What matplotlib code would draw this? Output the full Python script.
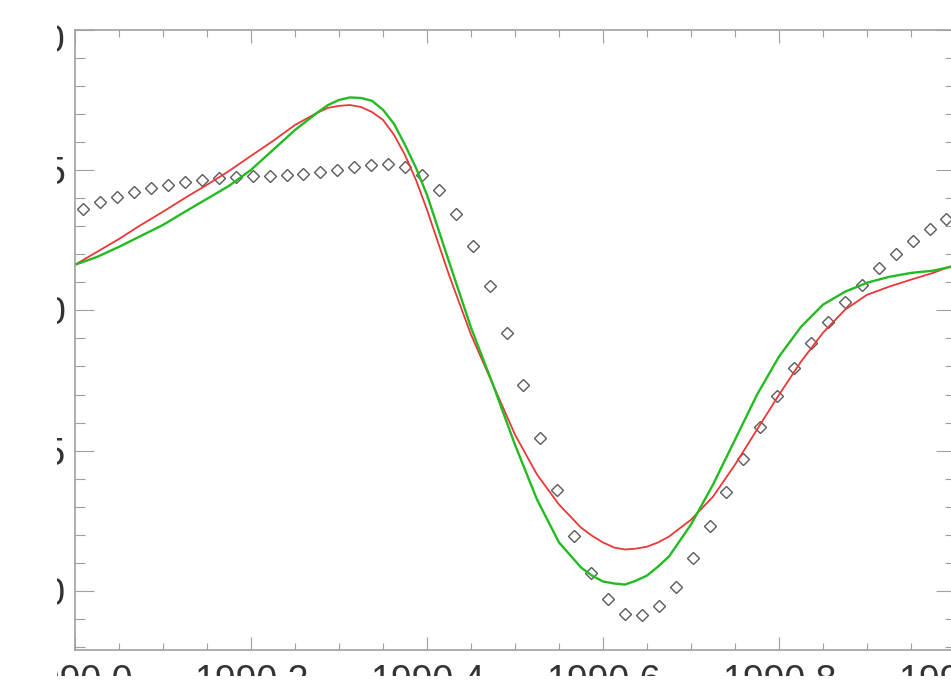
import matplotlib
matplotlib.use("Agg")
import matplotlib.pyplot as plt
from matplotlib.patches import Rectangle
from matplotlib.ticker import MultipleLocator
from matplotlib.transforms import ScaledTranslation

plt.rcParams["font.family"] = ["Liberation Sans", "DejaVu Sans"]

# weekly observations (time in decimal years)
obs_t = [1990.0096 + i * 0.01923 for i in range(52)]
obs_v = [3.61, 3.86, 4.04, 4.22, 4.36, 4.47, 4.57, 4.64, 4.72, 4.75,
         4.79, 4.79, 4.82, 4.86, 4.93, 5.00, 5.11, 5.18, 5.21, 5.11,
         4.82, 4.29, 3.43, 2.30, 0.87, -0.80, -2.65, -4.54, -6.39, -8.03,
         -9.34, -10.30, -10.80, -10.87, -10.52, -9.84, -8.84, -7.70, -6.49, -5.28,
         -4.15, -3.04, -2.05, -1.16, -0.41, 0.30, 0.91, 1.51, 2.01, 2.47,
         2.90, 3.26]

# model curves (denser near the turning points)
fit_dt = [0.0, 0.025, 0.05, 0.075, 0.1, 0.125, 0.15, 0.175, 0.2, 0.225,
          0.25, 0.275, 0.2875, 0.3, 0.3125, 0.325, 0.3375, 0.35, 0.3625, 0.375,
          0.3875, 0.4, 0.425, 0.45, 0.475, 0.5, 0.525, 0.55, 0.575, 0.5875,
          0.6, 0.6125, 0.625, 0.6375, 0.65, 0.6625, 0.675, 0.7, 0.725, 0.75,
          0.775, 0.8, 0.825, 0.85, 0.875, 0.9, 0.925, 0.95, 0.975, 1.0]
fit_red = [1.62, 2.08, 2.54, 3.04, 3.51, 4.00, 4.47, 4.96, 5.50, 6.03,
           6.60, 7.03, 7.21, 7.28, 7.31, 7.24, 7.06, 6.78, 6.25, 5.53,
           4.64, 3.58, 1.26, -0.87, -2.65, -4.43, -5.85, -6.92, -7.74, -8.03,
           -8.27, -8.45, -8.52, -8.49, -8.42, -8.27, -8.06, -7.46, -6.64, -5.50,
           -4.25, -3.01, -1.83, -0.80, 0.02, 0.55, 0.84, 1.09, 1.33, 1.62]
fit_green = [1.62, 1.90, 2.26, 2.65, 3.04, 3.51, 3.97, 4.43, 5.00, 5.71,
             6.42, 7.03, 7.31, 7.49, 7.58, 7.56, 7.46, 7.14, 6.64, 5.89,
             5.07, 4.11, 1.73, -0.62, -2.65, -4.79, -6.74, -8.27, -9.16, -9.45,
             -9.66, -9.73, -9.77, -9.63, -9.45, -9.13, -8.77, -7.63, -6.21, -4.61,
             -3.01, -1.65, -0.59, 0.20, 0.66, 0.98, 1.19, 1.33, 1.41, 1.58]
fit_t = [1990.0 + d for d in fit_dt]

x_ticks = [1990.0, 1990.2, 1990.4, 1990.6, 1990.8, 1991.0]
x_labels = ["1990.0", "1990.2", "1990.4", "1990.6", "1990.8", "1991.0"]
y_ticks = [-10, -5, 0, 5, 10]
y_labels = ["-10", "-5", "0", "5", "10"]

W, H = 951, 694
fig = plt.figure(figsize=(W / 100, H / 100), dpi=100)
ax = fig.add_axes([75 / W, 44 / H, 880 / W, 620.5 / H])

ax.plot(obs_t, obs_v, linestyle="none", marker="D", markersize=6.2,
        markerfacecolor="none", markeredgecolor="#5a5a5a", markeredgewidth=1.0)
ax.plot(fit_t, fit_red, color="#e83838", lw=1.3)
ax.plot(fit_t, fit_green, color="#22bb22", lw=1.7)

ax.set_xlim(1990.0, 1991.0)
ax.set_ylim(-12.1, 10.0)
ax.set_xticks(x_ticks)
ax.set_xticklabels(x_labels)
ax.set_yticks(y_ticks)
ax.set_yticklabels(y_labels)
ax.xaxis.set_minor_locator(MultipleLocator(0.05))
ax.yaxis.set_minor_locator(MultipleLocator(1))

for s in ax.spines.values():
    s.set_color("#a0a0a0")
    s.set_linewidth(1.2)

ax.tick_params(axis="x", which="major", direction="in", length=9.4, width=0.8,
               color="#a0a0a0", top=True, labelsize=27, labelcolor="#333333", pad=9.8)
ax.tick_params(axis="x", which="minor", direction="in", length=5, width=0.8,
               color="#a0a0a0", top=True)
ax.tick_params(axis="y", which="major", direction="in", length=13.7, width=0.8,
               color="#a0a0a0", right=True, labelsize=27, labelcolor="#333333", pad=7)
ax.tick_params(axis="y", which="minor", direction="in", length=7.2, width=0.8,
               color="#a0a0a0", right=True)

# top y label sits a little below its tick
top_lbl = ax.yaxis.get_major_ticks()[-1].label1
top_lbl.set_transform(top_lbl.get_transform()
                      + ScaledTranslation(0, -0.08, fig.dpi_scale_trans))

# trim the outer margins
fig.add_artist(Rectangle((0, 0), 57 / W, 1, transform=fig.transFigure,
                         facecolor="white", edgecolor="none", zorder=10))
fig.add_artist(Rectangle((0, 0), 1, 18 / H, transform=fig.transFigure,
                         facecolor="white", edgecolor="none", zorder=10))

fig.savefig("out.png", dpi=100)
